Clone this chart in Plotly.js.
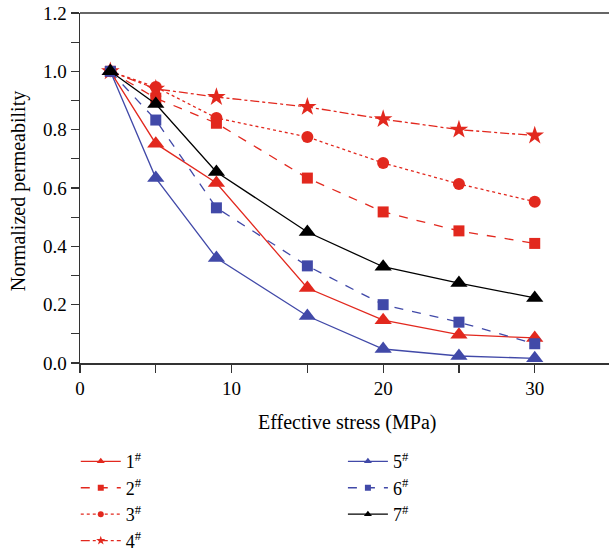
<!DOCTYPE html>
<html><head><meta charset="utf-8">
<script src="https://cdn.plot.ly/plotly-3.0.1.min.js"></script>
<style>html,body{margin:0;padding:0;background:#fff}#plot{width:609px;height:554px}</style>
</head><body><div id="plot"></div>
<script>
const stress = [2, 5, 9, 15, 20, 25, 30];
const names = ["1<sup>#</sup>", "2<sup>#</sup>", "3<sup>#</sup>", "4<sup>#</sup>", "5<sup>#</sup>", "6<sup>#</sup>", "7<sup>#</sup>"];
const s1 = [1.0, 0.752, 0.617, 0.257, 0.147, 0.097, 0.086];
const s2 = [1.0, 0.908, 0.822, 0.634, 0.518, 0.453, 0.41];
const s3 = [1.0, 0.946, 0.84, 0.775, 0.686, 0.614, 0.553];
const s4 = [1.0, 0.94, 0.912, 0.878, 0.836, 0.80, 0.78];
const s5 = [1.0, 0.634, 0.36, 0.161, 0.048, 0.024, 0.016];
const s6 = [1.0, 0.833, 0.532, 0.333, 0.2, 0.14, 0.066];
const s7 = [1.0, 0.888, 0.655, 0.449, 0.33, 0.274, 0.223];

const RED = "#e2281e", BLUE = "#4149a8", BLACK = "#000000";
const FONT = "Liberation Serif, Times New Roman, serif";

const specs = [
  [s1, RED, "solid", "triangle-up", 15, 7, "legend"],
  [s2, RED, "dash", "square", 11, 6, "legend"],
  [s3, RED, "dot", "circle", 12, 6, "legend"],
  [s4, RED, "dashdot", "star", 14, 7, "legend"],
  [s5, BLUE, "solid", "triangle-up", 15, 7, "legend2"],
  [s6, BLUE, "dash", "square", 11, 6, "legend2"],
  [s7, BLACK, "solid", "triangle-up", 15, 7, "legend2"]
];
const data = [];
specs.forEach(function (s, i) {
  data.push({x: stress, y: s[0], name: names[i], type: "scatter", mode: "lines+markers", showlegend: false,
    line: {color: s[1], width: 1.3, dash: s[2]}, marker: {color: s[1], symbol: s[3], size: s[4]}});
});
specs.forEach(function (s, i) {
  data.push({x: [null], y: [null], name: names[i], type: "scatter", mode: "lines+markers", showlegend: true,
    legend: s[6], line: {color: s[1], width: 1.3, dash: s[2]}, marker: {color: s[1], symbol: s[3], size: s[5]}});
});

const legendBase = {orientation: "v", bgcolor: "rgba(0,0,0,0)", font: {family: FONT, size: 18, color: "#000"},
  yanchor: "top", xanchor: "left", tracegroupgap: 0, itemwidth: 40};
const layout = {
  width: 609, height: 554,
  margin: {l: 80, r: 0, t: 13, b: 191, autoexpand: false},
  paper_bgcolor: "#fff", plot_bgcolor: "#fff",
  font: {family: FONT, size: 19, color: "#000"},
  xaxis: {range: [0, 34.9], tickvals: [0, 10, 20, 30], ticks: "outside", ticklen: 8, tickwidth: 1.3, tickcolor: "#333",
    minor: {tickvals: [5, 15, 25], ticks: "outside", ticklen: 8, tickwidth: 1.3, tickcolor: "#333"},
    showline: true, linecolor: "#333", linewidth: 1.5, mirror: false, showgrid: false, zeroline: false,
    automargin: false, tickfont: {family: FONT, size: 19}},
  yaxis: {range: [0, 1.2], tickvals: [0, 0.2, 0.4, 0.6, 0.8, 1.0, 1.2], tickformat: ".1f", ticks: "outside", ticklen: 8, tickwidth: 1.3, tickcolor: "#333",
    minor: {tickvals: [0.1, 0.3, 0.5, 0.7, 0.9, 1.1], ticks: "outside", ticklen: 8, tickwidth: 1.3, tickcolor: "#333"},
    showline: true, linecolor: "#333", linewidth: 1.5, showgrid: false, zeroline: false,
    automargin: false, tickfont: {family: FONT, size: 19}},
  annotations: [
    {text: "Effective stress (MPa)", xref: "paper", yref: "paper", x: 0.505, y: -0.169, xanchor: "center", yanchor: "middle",
      showarrow: false, font: {family: FONT, size: 20, color: "#000"}},
    {text: "Normalized permeability", xref: "paper", yref: "paper", x: -0.117, y: 0.491, xanchor: "center", yanchor: "middle",
      textangle: -90, showarrow: false, font: {family: FONT, size: 20, color: "#000"}}
  ],
  shapes: [{type: "line", xref: "paper", yref: "paper", x0: 0, x1: 1, y0: 1, y1: 1, line: {color: "#333", width: 1.5}}],
  legend: Object.assign({}, legendBase, {x: -0.008, y: -0.229}),
  legend2: Object.assign({}, legendBase, {x: 0.497, y: -0.229}),
  showlegend: true
};
Plotly.newPlot("plot", data, layout, {displayModeBar: false, staticPlot: true});
</script></body></html>
